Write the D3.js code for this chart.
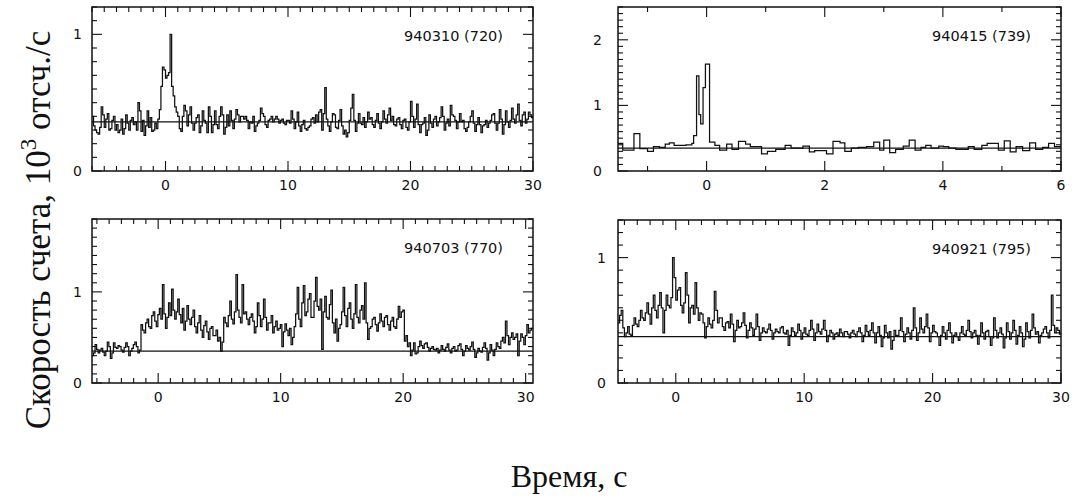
<!DOCTYPE html>
<html><head><meta charset="utf-8">
<script src="https://cdn.jsdelivr.net/npm/d3@7"></script>
<style>
html,body{margin:0;padding:0;background:#fff;}
svg{display:block;}
</style></head>
<body>
<svg id="chart" width="1073" height="499"></svg>
<script>
// ---------------- DATA ----------------
const panelTitles = ["940310 (720)", "940415 (739)", "940703 (770)", "940921 (795)"];

const xDomains = [[-6, 30], [-1.5, 6], [-5.4, 30.6], [-4.5, 30]];
const yDomains = [[0, 1.2], [0, 2.5], [0, 1.8], [0, 1.3]];

const xTickLabels = [[0, 10, 20, 30], [0, 2, 4, 6], [0, 10, 20, 30], [0, 10, 20, 30]];
const yTickLabels = [[0, 1], [0, 1, 2], [0, 1], [0, 1]];
const xMinorStep = [1, 1, 1, 1];
const yMinorStep = [0.1, 0.1, 0.1, 0.1];

const backgrounds = [0.36, 0.35, 0.35, 0.37];

// ---- 940310: bins of 0.125 s starting at -6 s
const t0_940310 = -6, dt_940310 = 0.125;
const rate_940310 = [
 0.40,0.33,0.30,0.28,0.27,0.32,0.47,0.41,0.32,0.38,0.42,0.30,0.31,0.37,0.40,0.30,
 0.34,0.28,0.30,0.38,0.27,0.31,0.41,0.35,0.30,0.37,0.39,0.34,0.36,0.30,0.50,0.44,
 0.29,0.37,0.26,0.33,0.44,0.32,0.39,0.29,0.30,0.35,0.31,0.38,0.45,0.62,0.76,0.74,
 0.68,0.70,0.72,1.00,0.62,0.55,0.47,0.43,0.40,0.31,0.29,0.40,0.48,0.44,0.33,0.41,
 0.47,0.35,0.30,0.35,0.39,0.41,0.28,0.33,0.44,0.37,0.35,0.28,0.47,0.40,0.28,0.34,
 0.44,0.34,0.31,0.40,0.47,0.41,0.27,0.32,0.41,0.33,0.44,0.37,0.31,0.38,0.45,0.41,
 0.36,0.40,0.40,0.38,0.40,0.37,0.31,0.36,0.35,0.40,0.29,0.33,0.35,0.37,0.46,0.42,
 0.40,0.34,0.32,0.37,0.38,0.40,0.36,0.38,0.40,0.38,0.35,0.37,0.38,0.35,0.34,0.37,
 0.37,0.35,0.44,0.38,0.31,0.36,0.43,0.33,0.29,0.34,0.37,0.31,0.30,0.32,0.33,0.38,
 0.39,0.35,0.41,0.36,0.43,0.45,0.30,0.42,0.61,0.38,0.33,0.29,0.36,0.42,0.41,0.32,
 0.31,0.37,0.45,0.33,0.27,0.30,0.25,0.28,0.37,0.46,0.56,0.37,0.29,0.35,0.42,0.35,
 0.34,0.39,0.32,0.36,0.43,0.38,0.39,0.34,0.32,0.37,0.42,0.35,0.31,0.36,0.44,0.38,
 0.35,0.41,0.46,0.37,0.40,0.34,0.33,0.38,0.39,0.34,0.31,0.37,0.38,0.32,0.30,0.36,
 0.51,0.40,0.32,0.38,0.49,0.34,0.28,0.34,0.35,0.39,0.26,0.30,0.41,0.35,0.32,0.38,
 0.40,0.33,0.36,0.39,0.47,0.40,0.30,0.35,0.38,0.33,0.48,0.41,0.40,0.37,0.31,0.36,
 0.42,0.36,0.37,0.31,0.29,0.32,0.36,0.40,0.44,0.35,0.29,0.34,0.39,0.34,0.28,0.33,
 0.34,0.37,0.32,0.35,0.37,0.41,0.42,0.35,0.30,0.35,0.45,0.38,0.27,0.34,0.44,0.36,
 0.32,0.37,0.46,0.38,0.35,0.41,0.49,0.37,0.33,0.41,0.43,0.35,0.38,0.43,0.41,0.39
];

// ---- 940415: variable-width bins (bin start times, last entry = end of last bin)
const time_940415 = [
 -1.5,-1.42,-1.23,-1.13,-1.0,-0.9,-0.8,-0.7,-0.63,-0.55,-0.35,-0.25,-0.22,-0.17,-0.13,
 -0.1,-0.06,-0.02,0.05,0.14,0.22,0.34,0.43,0.54,0.66,0.74,0.93,1.03,1.17,1.33,1.43,
 1.63,1.74,1.83,2.03,2.14,2.26,2.34,2.45,2.57,2.71,2.83,2.93,3.0,3.1,3.2,3.33,3.43,
 3.53,3.63,3.71,3.8,3.93,4.01,4.1,4.22,4.43,4.53,4.66,4.75,4.94,5.04,5.14,5.24,5.35,
 5.47,5.57,5.69,5.79,5.89,6.0
];
const rate_940415 = [
 0.42,0.32,0.57,0.34,0.30,0.37,0.36,0.41,0.43,0.39,0.40,0.42,0.54,1.45,0.86,
 0.72,1.27,1.63,0.44,0.39,0.32,0.41,0.33,0.45,0.41,0.37,0.26,0.30,0.33,0.39,0.35,
 0.38,0.29,0.31,0.26,0.45,0.43,0.30,0.35,0.36,0.37,0.44,0.32,0.47,0.28,0.33,0.38,0.47,
 0.32,0.36,0.39,0.35,0.38,0.37,0.35,0.33,0.37,0.33,0.39,0.42,0.32,0.46,0.29,0.37,0.31,
 0.43,0.33,0.36,0.42,0.37
];

// ---- 940703: bins of 0.125 s starting at -5.4 s
const t0_940703 = -5.4, dt_940703 = 0.125;
const rate_940703 = [
 0.30,0.33,0.42,0.37,0.33,0.36,0.38,0.34,0.30,0.35,0.45,0.40,0.27,0.33,0.44,0.39,
 0.38,0.41,0.40,0.36,0.34,0.39,0.44,0.40,0.30,0.35,0.38,0.42,0.45,0.40,0.33,0.36,
 0.64,0.58,0.55,0.66,0.70,0.62,0.60,0.74,0.78,0.68,0.62,0.75,0.82,0.70,1.08,0.76,
 0.60,0.72,0.88,0.74,1.03,0.80,0.70,0.78,0.92,0.75,0.66,0.82,0.58,0.68,0.85,0.70,
 0.64,0.72,0.80,0.62,0.55,0.66,0.74,0.58,0.50,0.63,0.68,0.56,0.48,0.60,0.62,0.52,
 0.52,0.58,0.46,0.50,0.35,0.45,0.72,0.66,0.62,0.74,0.90,0.70,0.65,0.78,1.19,0.80,
 0.72,0.66,1.08,0.76,0.78,0.70,0.64,0.72,0.76,0.68,0.55,0.62,0.88,0.74,0.62,0.70,
 0.92,0.72,0.58,0.66,0.66,0.74,0.55,0.62,0.68,0.58,0.60,0.64,0.40,0.56,0.65,0.58,
 0.52,0.60,0.42,0.50,0.62,0.76,1.05,0.70,0.62,0.88,1.07,0.74,0.78,0.92,0.98,0.72,
 0.72,0.90,1.16,0.84,0.80,0.92,0.37,0.78,0.95,0.72,0.70,0.86,1.02,0.66,0.55,0.70,
 0.46,0.60,0.64,0.78,1.05,0.74,0.62,0.82,0.88,0.70,0.60,0.76,1.08,0.72,0.66,0.80,
 0.85,0.70,1.10,0.66,0.48,0.60,0.62,0.70,0.72,0.64,0.57,0.66,0.76,0.68,0.62,0.72,
 0.74,0.64,0.58,0.68,0.72,0.62,0.60,0.70,0.84,0.72,0.78,0.80,0.46,0.52,0.40,0.44,
 0.30,0.36,0.44,0.32,0.33,0.40,0.46,0.41,0.38,0.43,0.44,0.39,0.35,0.38,0.40,0.37,
 0.36,0.38,0.33,0.36,0.41,0.37,0.35,0.39,0.43,0.36,0.33,0.38,0.40,0.35,0.36,0.41,
 0.43,0.37,0.30,0.35,0.41,0.38,0.36,0.40,0.45,0.37,0.28,0.33,0.38,0.35,0.34,0.39,
 0.44,0.38,0.25,0.33,0.42,0.36,0.30,0.37,0.44,0.40,0.38,0.46,0.50,0.44,0.68,0.52,
 0.42,0.50,0.55,0.48,0.50,0.54,0.30,0.46,0.54,0.50,0.42,0.52,0.64,0.55,0.58,0.60
];

// ---- 940921: bins of 0.125 s starting at -4.5 s
const t0_940921 = -4.5, dt_940921 = 0.125;
const rate_940921 = [
 0.48,0.54,0.58,0.44,0.37,0.40,0.45,0.39,0.38,0.46,0.52,0.47,0.45,0.50,0.58,0.52,
 0.50,0.56,0.64,0.55,0.47,0.60,0.70,0.58,0.52,0.62,0.72,0.60,0.40,0.58,0.70,0.62,
 0.60,0.68,1.00,0.84,0.66,0.74,0.76,0.62,0.56,0.64,0.88,0.70,0.48,0.60,0.62,0.55,
 0.80,0.60,0.50,0.56,0.55,0.48,0.36,0.45,0.52,0.47,0.44,0.50,0.73,0.58,0.48,0.52,
 0.52,0.45,0.42,0.48,0.49,0.44,0.55,0.47,0.33,0.42,0.50,0.44,0.45,0.48,0.56,0.46,
 0.36,0.42,0.48,0.44,0.38,0.43,0.55,0.45,0.34,0.40,0.44,0.41,0.40,0.43,0.47,0.42,
 0.35,0.40,0.43,0.41,0.40,0.44,0.45,0.40,0.39,0.42,0.30,0.38,0.44,0.41,0.38,0.40,
 0.47,0.42,0.35,0.40,0.44,0.39,0.38,0.42,0.50,0.43,0.34,0.40,0.47,0.41,0.39,0.43,
 0.50,0.42,0.33,0.38,0.42,0.40,0.35,0.39,0.40,0.38,0.43,0.40,0.37,0.41,0.41,0.39,
 0.36,0.40,0.42,0.39,0.37,0.41,0.44,0.40,0.33,0.38,0.46,0.41,0.38,0.42,0.48,0.40,
 0.32,0.40,0.45,0.38,0.29,0.36,0.46,0.40,0.36,0.41,0.27,0.34,0.42,0.38,0.38,0.42,
 0.52,0.41,0.33,0.39,0.44,0.40,0.35,0.42,0.60,0.44,0.34,0.40,0.52,0.43,0.40,0.45,
 0.55,0.44,0.33,0.40,0.46,0.41,0.40,0.37,0.30,0.38,0.45,0.40,0.35,0.42,0.48,0.40,
 0.32,0.38,0.40,0.37,0.34,0.40,0.45,0.39,0.38,0.42,0.50,0.41,0.36,0.40,0.42,0.38,
 0.31,0.38,0.48,0.40,0.35,0.41,0.42,0.37,0.30,0.36,0.52,0.42,0.36,0.40,0.44,0.39,
 0.28,0.36,0.48,0.41,0.35,0.40,0.50,0.42,0.31,0.38,0.45,0.40,0.29,0.35,0.48,0.41,
 0.36,0.42,0.55,0.44,0.39,0.41,0.32,0.38,0.40,0.43,0.45,0.40,0.36,0.42,0.70,0.46,
 0.40,0.44,0.42,0.39
];

const yTitleMain = "Скорость счета, 10";
const yTitleSup = "3";
const yTitleTail = " отсч./с";
const xTitle = "Время, с";

// ---------------- BUILD BIN EDGES ----------------
function uniformEdges(t0, dt, n) {
  const e = [];
  for (let i = 0; i <= n; i++) e.push(t0 + i * dt);
  return e;
}
const edgesList = [
  uniformEdges(t0_940310, dt_940310, rate_940310.length),
  time_940415,
  uniformEdges(t0_940703, dt_940703, rate_940703.length),
  uniformEdges(t0_940921, dt_940921, rate_940921.length)
];
const ratesList = [rate_940310, rate_940415, rate_940703, rate_940921];

// ---------------- LAYOUT ----------------
const frames = [
  {left: 92, right: 533, top: 7, bottom: 171},
  {left: 618, right: 1061, top: 7, bottom: 171},
  {left: 92, right: 533, top: 219, bottom: 383},
  {left: 618, right: 1061, top: 220, bottom: 383}
];
const yLabelGap = [10, 16, 10, 12];

const svg = d3.select("#chart");
const tickFont = "'DejaVu Sans', Verdana, sans-serif";
const ink = "#111";

frames.forEach((f, p) => {
  const x = d3.scaleLinear().domain(xDomains[p]).range([f.left, f.right]);
  const y = d3.scaleLinear().domain(yDomains[p]).range([f.bottom, f.top]);
  const g = svg.append("g");

  const clipId = "clip" + p;
  svg.append("clipPath").attr("id", clipId).append("rect")
    .attr("x", f.left).attr("y", f.top).attr("width", f.right - f.left).attr("height", f.bottom - f.top);

  const edges = edgesList[p], rates = ratesList[p];
  const pts = rates.map((v, i) => [edges[i], v]);
  pts.push([edges[rates.length], rates[rates.length - 1]]);
  const line = d3.line().x(d => x(d[0])).y(d => y(d[1])).curve(d3.curveStepAfter);
  g.append("path").attr("d", line(pts)).attr("fill", "none")
    .attr("stroke", ink).attr("stroke-width", 1.25).attr("clip-path", `url(#${clipId})`);

  g.append("line").attr("x1", f.left).attr("x2", f.right)
    .attr("y1", y(backgrounds[p])).attr("y2", y(backgrounds[p]))
    .attr("stroke", ink).attr("stroke-width", 1.3);

  const [x0, x1] = xDomains[p];
  const xs = d3.range(Math.ceil(x0 / xMinorStep[p]) * xMinorStep[p], x1 + 1e-9, xMinorStep[p]);
  const [y0, y1] = yDomains[p];
  const ys = d3.range(Math.ceil(y0 / yMinorStep[p] - 1e-9), Math.floor(y1 / yMinorStep[p] + 1e-9) + 1).map(k => +(k * yMinorStep[p]).toFixed(4));
  const isMajorX = v => xTickLabels[p].some(t => Math.abs(t - v) < 1e-6);
  const isMajorY = v => yTickLabels[p].some(t => Math.abs(t - v) < 1e-6);

  xs.forEach(v => {
    const len = isMajorX(v) ? 10 : 5;
    const xp = x(v);
    g.append("line").attr("x1", xp).attr("x2", xp).attr("y1", f.bottom).attr("y2", f.bottom - len).attr("stroke", ink).attr("stroke-width", 1.1);
    g.append("line").attr("x1", xp).attr("x2", xp).attr("y1", f.top).attr("y2", f.top + len).attr("stroke", ink).attr("stroke-width", 1.1);
  });
  ys.forEach(v => {
    const len = isMajorY(v) ? 10 : 5;
    const yp = y(v);
    g.append("line").attr("x1", f.left).attr("x2", f.left + len).attr("y1", yp).attr("y2", yp).attr("stroke", ink).attr("stroke-width", 1.1);
    g.append("line").attr("x1", f.right).attr("x2", f.right - len).attr("y1", yp).attr("y2", yp).attr("stroke", ink).attr("stroke-width", 1.1);
  });

  g.append("rect").attr("x", f.left).attr("y", f.top).attr("width", f.right - f.left).attr("height", f.bottom - f.top)
    .attr("fill", "none").attr("stroke", ink).attr("stroke-width", 1.5);

  xTickLabels[p].forEach(v => {
    g.append("text").attr("x", x(v)).attr("y", f.bottom + 19).attr("text-anchor", "middle")
      .attr("font-family", tickFont).attr("font-size", 14).attr("fill", ink).text(v);
  });
  yTickLabels[p].forEach(v => {
    g.append("text").attr("x", f.left - yLabelGap[p]).attr("y", y(v) + 5).attr("text-anchor", "end")
      .attr("font-family", tickFont).attr("font-size", 14).attr("fill", ink).text(v);
  });

  g.append("text").attr("x", f.right - 30).attr("y", f.top + 34).attr("text-anchor", "end")
    .attr("font-family", tickFont).attr("font-size", 14.5).attr("fill", ink).text(panelTitles[p]);
});

const serif = "'Liberation Serif', 'Times New Roman', serif";
const yt = svg.append("text").attr("transform", "translate(50,230) rotate(-90)")
  .attr("text-anchor", "middle").attr("font-family", serif).attr("font-size", 35).attr("fill", ink);
yt.append("tspan").text(yTitleMain);
yt.append("tspan").attr("font-size", 23).attr("dy", -14).text(yTitleSup);
yt.append("tspan").attr("dy", 14).text(yTitleTail);

svg.append("text").attr("x", 569).attr("y", 487).attr("text-anchor", "middle")
  .attr("font-family", serif).attr("font-size", 32).attr("fill", ink).text(xTitle);
</script>
</body></html>
